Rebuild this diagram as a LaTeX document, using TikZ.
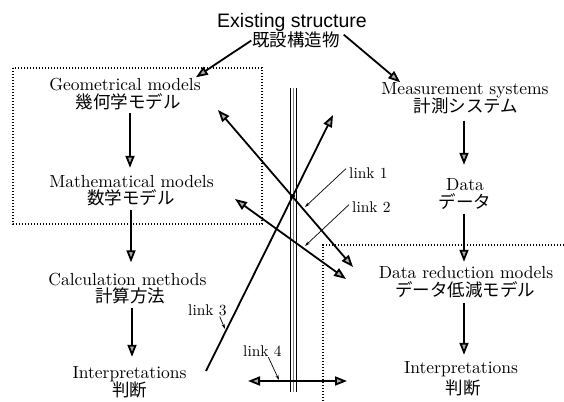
\documentclass[tikz,border=0pt]{standalone}
\usepackage{fontspec}
\setmainfont{lmroman10-regular.otf}
\newfontfamily\jpfont{Noto Sans CJK JP}
\newfontfamily\hvfont{Liberation Sans}
\usetikzlibrary{arrows.meta,calc}
\begin{document}
\begin{tikzpicture}[x=1pt,y=-1pt,
  en/.style={font=\fontsize{17.5}{20}\selectfont, inner sep=0pt, anchor=base, text height=12.5pt, text depth=3pt},
  jp/.style={font=\jpfont\fontsize{17.5}{20}\selectfont, inner sep=0pt, anchor=base, text height=14.5pt, text depth=1.5pt},
  lk/.style={font=\fontsize{15.5}{18}\selectfont, inner sep=1pt, anchor=base},
  tip/.tip={Triangle[length=12pt,width=9pt,fill=gray!65]},
  arr/.style={line width=1.8pt, -tip},
  darr/.style={line width=1.8pt, tip-tip},
  leader/.style={line width=0.7pt, -{Stealth[length=5pt,width=3pt]}},
  dotline/.style={line width=1.2pt, dash pattern=on 1.2pt off 1.8pt}]
\useasboundingbox (0,0) rectangle (564,401);

% dotted frames
\draw[dotline] (13,68) rectangle (262,224);
\draw[dotline] (564,245) -- (323,245) -- (323,401);

% texts
\node[en, font=\hvfont\fontsize{19.5}{22}\selectfont] (exEN) at (292,28) {Existing structure};
\node[jp] (exJP) at (296,46.5) {既設構造物};
\node[en] (geoEN) at (125,91) {Geometrical models};
\node[jp] (geoJP) at (128,108.5) {幾何学モデル};
\node[en] (mathEN) at (131.5,187) {Mathematical models};
\node[jp] (mathJP) at (131,204.5) {数学モデル};
\node[en] (calcEN) at (127.5,285) {Calculation methods};
\node[jp] (calcJP) at (130,302.5) {計算方法};
\node[en] (intLEN) at (129.5,378) {Interpretations};
\node[jp] (intLJP) at (129.5,396) {判断};
\node[en] (measEN) at (465,95) {Measurement systems};
\node[jp] (measJP) at (466,113) {計測システム};
\node[en] (dataEN) at (465,190) {Data};
\node[jp] (dataJP) at (465,208) {データ};
\node[en] (drEN) at (466,278) {Data reduction models};
\node[jp] (drJP) at (465,296.5) {データ低減モデル};
\node[en] (intREN) at (461,373) {Interpretations};
\node[jp] (intRJP) at (463,394) {判断};

% arrows from existing structure
\draw[arr, shorten <=1pt] (exJP.west) -- ($(geoEN.north east)+(-5,-1)$);
\draw[arr, shorten <=1pt] ($(exJP.east)+(3,-6)$) -- ($(measEN.north west)+(19,0)$);

% vertical chain arrows
\draw[arr, shorten <=3pt, shorten >=6.5pt] ($(geoJP.south)+(2,0)$) -- ($(geoJP.south |- mathEN.north)+(2,0)$);
\draw[arr, shorten <=4pt, shorten >=10pt] (mathJP.south) -- (mathJP.south |- calcEN.north);
\draw[arr, shorten <=4pt, shorten >=8.5pt] ($(calcJP.south)+(2,0)$) -- ($(calcJP.south |- intLEN.north)+(2,0)$);
\draw[arr, shorten <=6pt, shorten >=12.5pt] ($(measJP.south)+(-2,0)$) -- ($(measJP.south |- dataEN.north)+(-2,0)$);
\draw[arr, shorten <=4pt, shorten >=3.5pt] ($(dataJP.south)+(-1,0)$) -- ($(dataJP.south |- drEN.north)+(-1,0)$);
\draw[arr, shorten <=5pt, shorten >=5.5pt] ($(drJP.south)+(-1,0)$) -- ($(drJP.south |- intREN.north)+(-1,0)$);

% the pipe (triple line)
\coordinate (pt) at (293.3,88);
\coordinate (pb) at (293.3,392);
\draw[line width=1.1pt] ([xshift=-2.9pt]pt) -- ([xshift=-2.9pt]pb);
\draw[line width=0.8pt, gray] (pt) -- (pb);
\draw[line width=1.1pt] ([xshift=2.9pt]pt) -- ([xshift=2.9pt]pb);

% crossing links
\coordinate (a1) at (218,110);
\coordinate (a2) at (353,267);
\coordinate (b1) at (235,199);
\coordinate (b2) at (346,279);
\coordinate (c1) at (206,371);
\coordinate (c2) at (333,115);
\coordinate (d1) at (248,381);
\coordinate (d2) at (347,381);
\coordinate (X) at (293,196);
\draw[darr] (a1) -- (a2);
\draw[darr] (b1) -- (b2);
\draw[arr] (c1) -- (c2);
\draw[darr] (d1) -- (d2);
\fill (X) circle (2pt);

% link labels
\node[lk, anchor=base west] (l1) at (348,178) {link 1};
\node[lk, anchor=base west] (l2) at (351,212) {link 2};
\node[lk, anchor=base west] (l3) at (187,315) {link 3};
\node[lk, anchor=base west] (l4) at (242,356) {link 4};
\coordinate (p1) at (305,207);
\coordinate (p2) at (305,246);
\coordinate (p3) at (225,329);
\coordinate (p4) at (279,380);
\draw[leader] ($(l1.west)+(-2,-4)$) -- (p1);
\draw[leader] ($(l2.west)+(-2,-2)$) -- (p2);
\draw[leader] ($(l3.south east)+(-8,0)$) -- (p3);
\draw[leader] ($(l4.south)+(6,0)$) -- (p4);
\end{tikzpicture}
\end{document}
